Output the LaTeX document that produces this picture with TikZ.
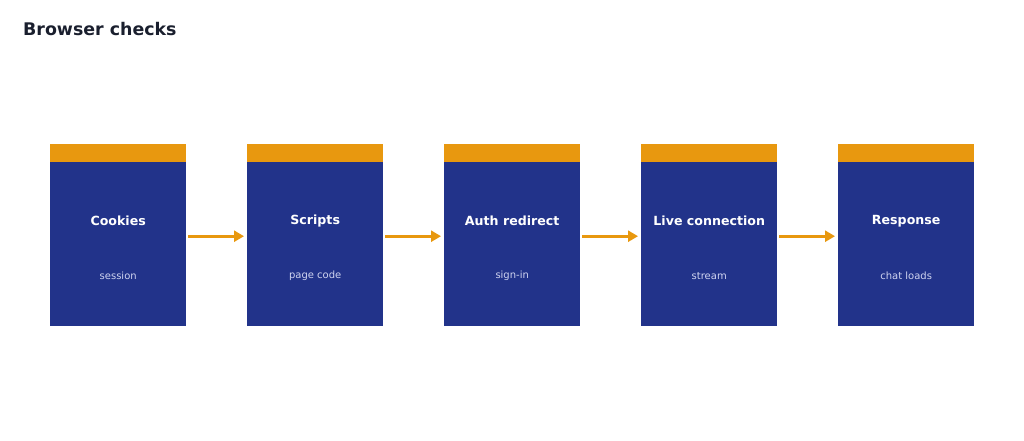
\documentclass[tikz,border=0pt]{standalone}
\usepackage{fontspec}
\setmainfont{DejaVu Sans}
\usetikzlibrary{arrows.meta}
\definecolor{bblue}{HTML}{22338A}
\definecolor{borange}{HTML}{E8980F}
\definecolor{ttl}{HTML}{1A1F2E}
\definecolor{subc}{HTML}{D0D4F0}
\begin{document}
\begin{tikzpicture}[x=1pt,y=-1pt,
  body/.style={fill=bblue,draw=none,minimum width=136pt,minimum height=164pt,inner sep=0pt,anchor=north west},
  topbar/.style={fill=borange,draw=none,minimum width=136pt,minimum height=18pt,inner sep=0pt,anchor=north west},
  lbl/.style={text=white,font=\fontsize{12.6}{15}\selectfont\bfseries},
  sub/.style={text=subc,font=\fontsize{10}{12}\selectfont},
  arr/.style={draw=borange,line width=2.6pt,-{Triangle[length=10pt,width=11pt]}}]
\useasboundingbox (0,0) rectangle (1024,441);
\node[anchor=base west,inner sep=0pt,text=ttl,font=\fontsize{17.4}{20}\selectfont\bfseries] (title) at (23,36) {Browser checks};
\foreach \i/\x/\t/\s in {1/50/Cookies/session,2/247/Scripts/page code,3/444/Auth redirect/sign-in,4/641/Live connection/stream,5/838/Response/chat loads}{
  \node[body] (b\i) at (\x,162) {};
  \node[topbar] (c\i) at (\x,144) {};
  \node[lbl] (l\i) at ([yshift=-59pt]b\i.north) {\t};
  \node[sub] (s\i) at ([yshift=-114pt]b\i.north) {\s};
}
\foreach \a/\b in {1/2,2/3,3/4,4/5}{
  \draw[arr] ([xshift=2pt,yshift=8pt]b\a.east) -- ([xshift=-3pt,yshift=8pt]b\b.west);
}
\end{tikzpicture}
\end{document}
